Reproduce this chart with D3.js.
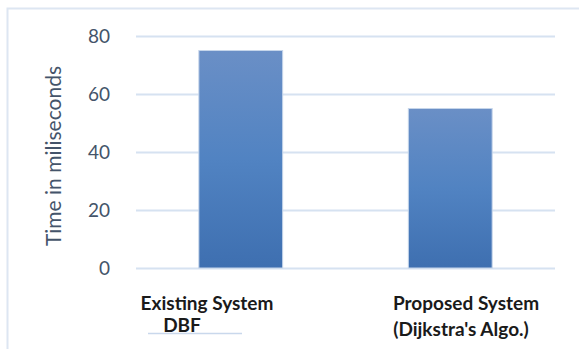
<!DOCTYPE html>
<html><head><meta charset="utf-8">
<script src="https://cdn.jsdelivr.net/npm/d3@7"></script>
<style>body{margin:0;background:#fff}svg{display:block}</style>
</head><body>
<script>
const categories = ["Existing System", "Proposed System"];
const categoryLine2 = ["DBF", "(Dijkstra's Algo.)"];
const values = [75, 55];
const yTicks = [0, 20, 40, 60, 80];
const yTitle = "Time in miliseconds";

const W = 579, H = 349;
const svg = d3.select("body").append("svg").attr("width", W).attr("height", H);
const ff = "Lato, 'Open Sans', sans-serif";

svg.append("path").attr("d", "M7.5,349 L7.5,8.5 L579,8.5").attr("fill", "none")
  .attr("stroke", "#dde6f2").attr("stroke-width", 2);

const x0 = 136, x1 = 555;
const y = d3.scaleLinear().domain([0, 80]).range([268, 36]);
const x = d3.scaleBand().domain(categories).range([x0, x1]).paddingInner(0.6).paddingOuter(0.3);

const defs = svg.append("defs");
const g = defs.append("linearGradient").attr("id", "bg").attr("x1", 0).attr("y1", 0).attr("x2", 0).attr("y2", 1);
g.append("stop").attr("offset", "0%").attr("stop-color", "#6a8fc6");
g.append("stop").attr("offset", "50%").attr("stop-color", "#5183c2");
g.append("stop").attr("offset", "100%").attr("stop-color", "#3e6fb0");

const axis = d3.axisLeft(y).tickValues(yTicks).tickSize(-(x1 - x0)).tickPadding(26);
const ag = svg.append("g").attr("transform", `translate(${x0},0)`).call(axis);
ag.select(".domain").remove();
ag.selectAll(".tick line").attr("stroke", "#d6e2f1").attr("stroke-width", 2);
ag.selectAll(".tick text").attr("fill", "#44546a").attr("font-family", ff)
  .attr("font-size", 19);

svg.append("g").selectAll("rect").data(values).join("rect")
  .attr("x", (d, i) => x(categories[i]))
  .attr("width", x.bandwidth())
  .attr("y", d => y(d))
  .attr("height", d => y(0) - y(d))
  .attr("fill", "url(#bg)")
  .attr("stroke", "#c5d5ea").attr("stroke-width", 1);

svg.append("text").attr("transform", "translate(61,156) rotate(-90)")
  .attr("text-anchor", "middle").attr("fill", "#44546a")
  .attr("font-family", ff).attr("font-size", 21)
  .text(yTitle);

const lab1x = [207, 466], lab2x = [182, 461];
svg.append("g").selectAll("text").data(categories).join("text")
  .attr("x", (d, i) => lab1x[i]).attr("y", 310)
  .attr("text-anchor", "middle").attr("font-family", ff).attr("font-weight", "bold")
  .attr("font-size", 19).attr("fill", "#1a1a1a")
  .text(d => d);
svg.append("g").selectAll("text").data(categoryLine2).join("text")
  .attr("x", (d, i) => lab2x[i]).attr("y", (d, i) => i === 0 ? 332 : 336)
  .attr("text-anchor", "middle").attr("font-family", ff).attr("font-weight", "bold")
  .attr("font-size", 19).attr("fill", "#1a1a1a")
  .text(d => d);
svg.append("line").attr("x1", 148).attr("x2", 242).attr("y1", 333.5).attr("y2", 333.5)
  .attr("stroke", "#c9d8ec").attr("stroke-width", 1.5);
</script>
</body></html>
